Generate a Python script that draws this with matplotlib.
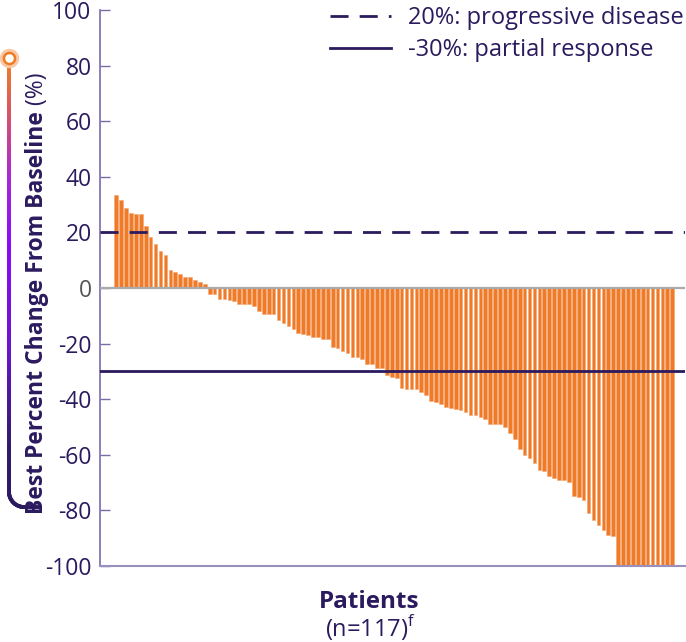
import numpy as np
import matplotlib
matplotlib.use("Agg")
import matplotlib.pyplot as plt
from matplotlib.collections import LineCollection
from matplotlib.colors import LinearSegmentedColormap
from matplotlib.lines import Line2D

plt.rcParams['font.family'] = ['Open Sans', 'DejaVu Sans']
plt.rcParams['mathtext.fontset'] = 'custom'
plt.rcParams['mathtext.rm'] = 'Open Sans'

# ---- data (best percent change per patient, sorted) ----
pos_vals = [33.4, 31.6, 28.6, 26.8, 26.5, 26.5, 22.4, 18.2, 16.0, 13.2, 11.8,
            6.4, 5.8, 5.0, 3.8, 3.8, 2.8, 2.2, 1.6]
neg_vals_a = [-2.0, -2.0, -3.8, -3.8, -4.2, -4.6, -5.6, -5.7, -5.9, -6.4, -8.2,
              -9.5, -9.5, -9.5, -11.5, -12.7, -13.6, -14.8, -16.1, -16.5, -17.0,
              -17.8, -17.8, -18.4, -18.4, -21.3, -21.7, -22.8, -23.5, -24.8, -24.9]
neg_vals_b = [-25.7, -27.2, -27.2, -28.9, -28.9, -31.3, -31.9, -32.5, -36.1, -36.4,
              -36.4, -36.4, -37.5, -38.5, -40.8, -40.9, -41.9, -42.9, -43.0, -43.4,
              -43.8, -44.6, -45.8, -45.8, -46.4, -47.0, -49.1, -49.1, -49.1, -50.0,
              -52.2, -54.2, -57.8]
neg_vals_c = [-59.9, -61.3, -62.9, -65.5, -65.8, -67.6, -68.3, -68.9, -69.2, -69.8,
              -74.8, -75.2, -76.1, -80.9, -83.3, -85.1, -87.1, -88.9, -89.3]
neg_vals_d = [-100.0] * 12
values = pos_vals + neg_vals_a + neg_vals_b + neg_vals_c + neg_vals_d

yticks = [100, 80, 60, 40, 20, 0, -20, -40, -60, -80, -100]
pd_threshold = 20
pr_threshold = -30
legend_labels = ["20%: progressive disease", "-30%: partial response"]

PURPLE = '#2B1A5E'
ORANGE = '#EF7B28'

W, H = 686, 642
fig = plt.figure(figsize=(W / 100, H / 100), dpi=100)
ax = fig.add_axes([100 / W, 1 - 566 / H, (685 - 100) / W, (566 - 10) / H])

x = np.arange(len(values))
ax.bar(x, values, width=0.74, color=ORANGE, edgecolor='#F5A66E', linewidth=0.4, zorder=2)

ax.axhline(0, color='#AAAAAA', lw=1.6, zorder=3)
ax.axhline(pd_threshold, color=PURPLE, lw=2, ls=(0, (6.5, 4)), zorder=4)
ax.axhline(pr_threshold, color=PURPLE, lw=2, zorder=4)

ax.set_xlim(-3.3, 115.6)
ax.set_ylim(-100, 100)
ax.set_xticks([])
ax.set_yticks(yticks)
ax.set_yticklabels([str(v) for v in yticks])
ax.tick_params(axis='y', direction='in', length=7, width=1, color='#7A6BA8',
               labelsize=16.5, labelcolor=PURPLE, pad=6)
for lbl in ax.get_yticklabels():
    if lbl.get_text() == '0':
        lbl.set_color('#555555')
for s in ['top', 'right']:
    ax.spines[s].set_visible(False)
ax.spines['left'].set_color('#7A6BA8')
ax.spines['left'].set_linewidth(1.2)
ax.spines['bottom'].set_color('#9A90BE')
ax.spines['bottom'].set_linewidth(1.5)

handles = [Line2D([], [], color=PURPLE, lw=2, ls=(0, (6.5, 4))),
           Line2D([], [], color=PURPLE, lw=2)]
leg = ax.legend(handles, legend_labels, loc='upper right', frameon=False,
                fontsize=17, handlelength=2.6, handletextpad=0.7, labelspacing=0.35,
                borderaxespad=0.0, bbox_to_anchor=(1.014, 1.024))
for t in leg.get_texts():
    t.set_color(PURPLE)

# x label
fig.text(369 / W, 1 - 602 / H, 'Patients', ha='center', va='center',
         fontsize=17.5, fontweight='bold', color=PURPLE)
fig.text(370 / W, 1 - 628 / H, r'(n=117)$^{\mathrm{f}}$', ha='center', va='center',
         fontsize=17, color=PURPLE)

# y label: bold part + regular (%)
fig.canvas.draw()
renderer = fig.canvas.get_renderer()
ylab_x = 37 / W
t1 = fig.text(ylab_x, 0.5, 'Best Percent Change From Baseline', rotation=90,
              ha='center', va='bottom', fontsize=16.5, fontweight='bold', color=PURPLE)
t2 = fig.text(ylab_x, 0.5, ' (%)', rotation=90, ha='center', va='bottom',
              fontsize=16.5, color=PURPLE)
bb1 = t1.get_window_extent(renderer)
bottom_px = 514  # from top
bottom_frac = 1 - bottom_px / H
t1.set_position((ylab_x, bottom_frac))
t2.set_position((ylab_x, bottom_frac + bb1.height / H))

# decorative gradient bracket
cmap = LinearSegmentedColormap.from_list('g', [(0, '#F07B27'), (0.1, '#D8506A'),
                                              (0.22, '#A828D8'), (0.35, '#8A0AF8'),
                                              (0.55, '#6A14D0'), (0.75, '#2E1A66'),
                                              (1.0, '#2B1A5E')])
xs_px = [9.0] * 200
ys_px = list(np.linspace(64, 492, 200))
theta = np.linspace(np.pi, np.pi / 2, 40)
r = 15
cx, cy = 9 + r, 492
for th in theta[1:]:
    xs_px.append(cx + r * np.cos(th))
    ys_px.append(cy + r * np.sin(th))
xs_px += [32, 40]
ys_px += [507, 507]
xs_f = np.array(xs_px) / W
ys_f = 1 - np.array(ys_px) / H
pts = np.column_stack([xs_f, ys_f]).reshape(-1, 1, 2)
segs = np.concatenate([pts[:-1], pts[1:]], axis=1)
lc = LineCollection(segs, cmap=cmap, linewidths=2.8, transform=fig.transFigure,
                    capstyle='round')
lc.set_array(np.linspace(0, 1, len(segs)))
fig.add_artist(lc)
fig.add_artist(Line2D([9 / W], [1 - 58 / H], marker='o', markersize=11,
                      markerfacecolor='none', markeredgecolor='#F9C9A6', markeredgewidth=3,
                      transform=fig.transFigure))
fig.add_artist(Line2D([9 / W], [1 - 58 / H], marker='o', markersize=8,
                      markerfacecolor='white', markeredgecolor='#F07B27', markeredgewidth=1.8,
                      transform=fig.transFigure))

fig.savefig('out.png', dpi=100)
